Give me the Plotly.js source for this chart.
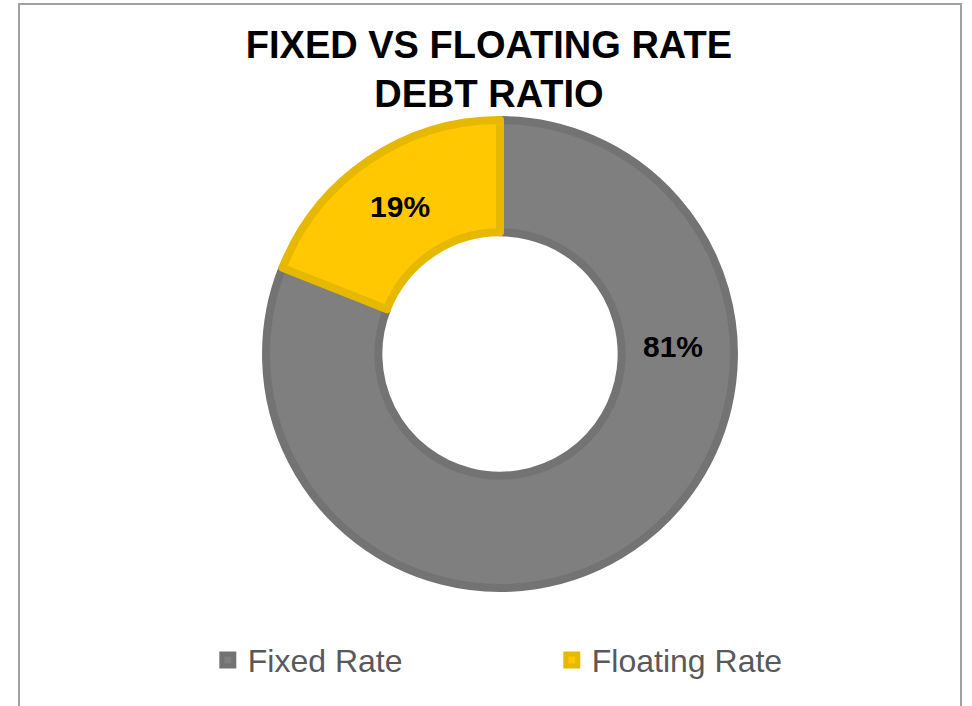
<!DOCTYPE html>
<html>
<head>
<meta charset="utf-8">
<script src="https://cdn.plot.ly/plotly-3.0.1.min.js"></script>
<style>html,body{margin:0;padding:0;background:#fff;}#chart{width:972px;height:706px;}</style>
</head>
<body>
<div id="chart"></div>
<script>
var categories = ["Fixed Rate", "Floating Rate"];
var shares = [81, 19];
var titleText = "FIXED VS FLOATING RATE<br>DEBT RATIO";

var fillColors = ["#7f7f7f", "#ffc800"];
var lineColors = ["#737373", "#e6b800"];
var FONT = "Liberation Sans, Arial, sans-serif";

var total = shares.reduce(function (a, b) { return a + b; }, 0);
var pctText = shares.map(function (v) { return Math.round(v / total * 100) + "%"; });
// the fixed-rate label is placed by an annotation (as in the reference), the floating label inside its slice
var sliceText = pctText.map(function (t, i) { return i === 0 ? "" : t; });

var trace = {
  type: "pie",
  labels: categories,
  values: shares,
  sort: false,
  direction: "clockwise",
  rotation: 0,
  hole: 0.52,
  text: sliceText,
  textinfo: "text",
  textposition: "inside",
  insidetextorientation: "horizontal",
  insidetextfont: {family: FONT, size: 30, color: "#000000", weight: "bold"},
  marker: {colors: fillColors, line: {color: lineColors, width: 8}},
  domain: {x: [0.2737, 0.7551], y: [0.1671, 0.8300]},
  hoverinfo: "skip"
};

var layout = {
  width: 972,
  height: 706,
  margin: {l: 0, r: 0, t: 0, b: 0, autoexpand: false},
  paper_bgcolor: "#ffffff",
  plot_bgcolor: "#ffffff",
  font: {family: FONT},
  title: {
    text: titleText,
    font: {family: FONT, size: 38, color: "#000000", weight: "bold"},
    x: 0.503, xanchor: "center",
    y: 0.918, yanchor: "top", yref: "container"
  },
  showlegend: true,
  legend: {
    orientation: "h",
    x: 0.2138, xanchor: "left",
    y: 0.065, yanchor: "middle",
    bgcolor: "rgba(0,0,0,0)",
    font: {family: FONT, size: 32, color: "#595959"},
    entrywidth: 299, entrywidthmode: "pixels",
    itemclick: false, itemdoubleclick: false
  },
  annotations: [{
    text: "<b>" + pctText[0] + "</b>",
    xref: "paper", yref: "paper",
    x: 0.6924, y: 0.5085,
    xanchor: "center", yanchor: "middle",
    showarrow: false,
    font: {family: FONT, size: 30, color: "#000000"}
  }],
  shapes: [{
    type: "rect", xref: "paper", yref: "paper",
    x0: 19 / 972, x1: 961 / 972, y0: -0.2, y1: 1 - 4 / 706,
    line: {color: "#a0a0a0", width: 2},
    fillcolor: "rgba(0,0,0,0)",
    layer: "above"
  }]
};

Plotly.newPlot("chart", [trace], layout, {displayModeBar: false, staticPlot: true});
</script>
</body>
</html>
